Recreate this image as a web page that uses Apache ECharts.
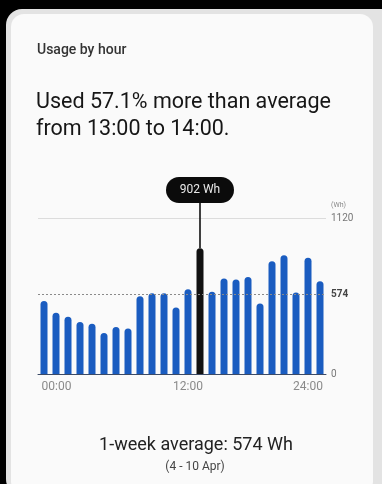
<!DOCTYPE html>
<html>
<head>
<meta charset="utf-8">
<script src="https://cdn.jsdelivr.net/npm/echarts@6/dist/echarts.min.js"></script>
<style>
  html, body { margin: 0; padding: 0; background: #000; }
  #wrap { position: relative; width: 382px; height: 484px; overflow: hidden; background: #000; }
  #card { position: absolute; left: 6px; top: 9px; width: 392px; height: 486px; border-radius: 16px; background: #e3e3e3; }
  #inner { position: absolute; left: 11px; top: 14px; width: 362px; height: 480px; border-radius: 13px; background: #fafafa; }
  #chart { position: absolute; left: 0; top: 0; width: 382px; height: 484px; }
</style>
</head>
<body>
<div id="wrap">
  <div id="card"></div>
  <div id="inner"></div>
  <div id="chart"></div>
</div>
<script>
// hourly usage (Wh)
const hours = ['00', '01', '02', '03', '04', '05', '06', '07', '08', '09', '10', '11',
               '12', '13', '14', '15', '16', '17', '18', '19', '20', '21', '22', '23'];
const usage = [525, 439, 411, 373, 361, 294, 337, 327, 559, 580, 580, 478,
               609, 902, 590, 686, 678, 697, 506, 810, 853, 585, 834, 666];
const xTickLabels = { 0: '00:00', 12: '12:00', 23: '24:00' };
const yMax = 1120;
const weekAverage = 574;
const peakIndex = 13;

const chart = echarts.init(document.getElementById('chart'));

const option = {
  animation: false,
  textStyle: { fontFamily: 'Roboto' },
  grid: { left: 38, right: 56, top: 218, bottom: 110 },
  xAxis: {
    type: 'category',
    data: hours,
    axisLine: { lineStyle: { color: '#3b4a66', width: 1 } },
    axisTick: { show: false },
    axisLabel: {
      interval: (i) => i in xTickLabels,
      formatter: (v, i) => {
        if (i === 0) return '{l|' + xTickLabels[0] + '}';
        if (i === 23) return '{r|' + xTickLabels[23] + '}';
        return '{c|' + xTickLabels[i] + '}';
      },
      margin: 7,
      rich: {
        l: { color: '#8a8a8a', fontSize: 12, padding: [0, 0, 0, 25] },
        c: { color: '#8a8a8a', fontSize: 12 },
        r: { color: '#8a8a8a', fontSize: 12, padding: [0, 24, 0, 0] }
      }
    }
  },
  yAxis: {
    type: 'value',
    position: 'right',
    min: 0,
    max: yMax,
    interval: yMax,
    name: '(Wh)',
    nameLocation: 'end',
    nameGap: 9,
    nameTextStyle: { fontSize: 7, color: '#888', align: 'left', padding: [0, 0, 0, 5] },
    axisLine: { show: false },
    axisTick: { show: false },
    splitLine: { lineStyle: { color: '#dcdcdc', width: 1 } },
    axisLabel: { margin: 5, fontSize: 10, color: '#777', formatter: (v) => String(v) }
  },
  series: [
    {
      type: 'bar',
      z: 3,
      barWidth: 7,
      data: usage.map((v, i) => i === peakIndex
        ? { value: v, itemStyle: { color: '#111' } }
        : v),
      itemStyle: { color: '#1a5cc0', borderRadius: [3.5, 3.5, 0, 0] }
    },
    {
      // average line, kept under the bars
      type: 'line',
      z: 1,
      data: [],
      markLine: {
        silent: true,
        symbol: 'none',
        lineStyle: { type: [2, 2], color: '#8a8a8a', width: 1 },
        label: { position: 'end', distance: 5, formatter: String(weekAverage), fontWeight: 'bold', fontSize: 10, color: '#444' },
        data: [{ yAxis: weekAverage }]
      }
    }
  ]
};
chart.setOption(option);

// tooltip bubble over the peak hour
const [px, py] = chart.convertToPixel({ seriesIndex: 0 }, [peakIndex, usage[peakIndex]]);
chart.setOption({
  graphic: [
    { type: 'text', left: 37, top: 43, style: { text: 'Usage by hour', font: '500 14px Roboto', fill: '#333' } },
    { type: 'text', left: 36, top: 92, style: { text: 'Used 57.1% more than average', font: '21.5px Roboto', fill: '#161616' } },
    { type: 'text', left: 36, top: 119, style: { text: 'from 13:00 to 14:00.', font: '21.5px Roboto', fill: '#161616' } },
    { type: 'line', shape: { x1: px, y1: 200, x2: px, y2: py }, style: { stroke: '#111', lineWidth: 1.6 }, z: 10 },
    { type: 'rect', shape: { x: px - 34, y: 177, width: 68, height: 26, r: 13 }, style: { fill: '#0b0b0b' }, z: 11 },
    { type: 'text', x: px, y: 190, style: { text: usage[peakIndex] + ' Wh', font: '12px Roboto', fill: '#e8e8e8', align: 'center', verticalAlign: 'middle' }, z: 12 },
    { type: 'text', x: 196, y: 445, style: { text: '1-week average: ' + weekAverage + ' Wh', font: '18px Roboto', fill: '#222', align: 'center', verticalAlign: 'middle' } },
    { type: 'text', x: 195, y: 467, style: { text: '(4 - 10 Apr)', font: '12px Roboto', fill: '#444', align: 'center', verticalAlign: 'middle' } }
  ]
});
</script>
</body>
</html>
